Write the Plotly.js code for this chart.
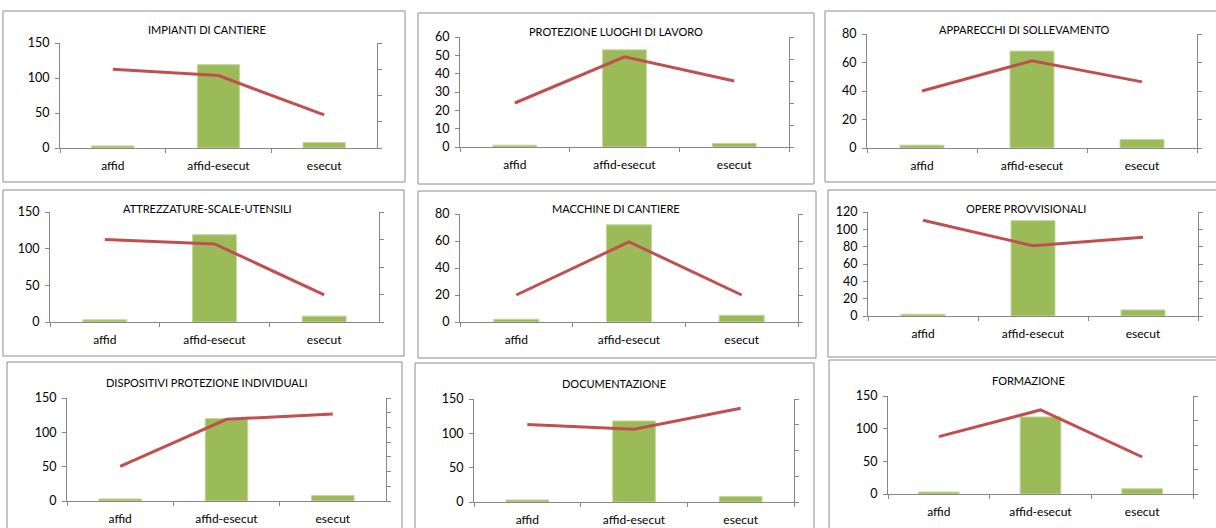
<!DOCTYPE html>
<html>
<head>
<meta charset="utf-8">
<script src="https://cdn.plot.ly/plotly-3.0.1.min.js"></script>
<style>
html,body{margin:0;padding:0;background:#fff;}
#chart{width:1216px;height:528px;}
</style>
</head>
<body>
<div id="chart"></div>
<script>
// ---- DATA ----
const categories = ["affid", "affid-esecut", "esecut"];
const panelTitles = [
  "IMPIANTI DI CANTIERE", "PROTEZIONE LUOGHI DI LAVORO", "APPARECCHI DI SOLLEVAMENTO",
  "ATTREZZATURE-SCALE-UTENSILI", "MACCHINE DI CANTIERE", "OPERE PROVVISIONALI",
  "DISPOSITIVI PROTEZIONE INDIVIDUALI", "DOCUMENTAZIONE", "FORMAZIONE"
];
// bar series (left axis)
const impiantiBars      = [3, 119, 8];
const protezioneBars    = [1, 53, 2];
const apparecchiBars    = [2, 68, 6];
const attrezzatureBars  = [3, 119, 8];
const macchineBars      = [2, 72, 5];
const opereBars         = [2, 110, 7];
const dispositiviBars   = [3, 120, 8];
const documentazioneBars= [3, 118, 8];
const formazioneBars    = [3, 118, 8];
// line series (secondary axis, unlabeled)
const impiantiLine      = [3.0, 2.76, 1.26];
const protezioneLine    = [2.0, 4.1, 3.0];
const apparecchiLine    = [2.0, 3.06, 2.32];
const attrezzatureLine  = [3.0, 2.84, 0.99];
const macchineLine      = [1.0, 2.97, 1.0];
const opereLine         = [5.52, 4.05, 4.55];
const dispositiviLine   = [2.36, 5.55, 5.91];
const documentazioneLine= [3.01, 2.83, 3.64];
const formazioneLine    = [2.34, 3.43, 1.51];
// left axis ranges / steps
const leftMax  = [150, 60, 80, 150, 80, 120, 150, 150, 150];
const leftStep = [50, 10, 20, 50, 20, 20, 50, 50, 50];
// right axis ranges (step 1)
const rightMax = [4, 5, 4, 4, 4, 6, 7, 4, 4];

const barSeries = [impiantiBars, protezioneBars, apparecchiBars, attrezzatureBars, macchineBars,
                   opereBars, dispositiviBars, documentazioneBars, formazioneBars];
const lineSeries = [impiantiLine, protezioneLine, apparecchiLine, attrezzatureLine, macchineLine,
                    opereLine, dispositiviLine, documentazioneLine, formazioneLine];

// ---- LAYOUT GEOMETRY (pixels) ----
const W = 1216, H = 528;
// plot area: [xLeft, xRight, yTop, yBottom]
const plotBox = [
  [60, 377, 43, 148], [460, 789, 37, 147], [867, 1197, 34, 148],
  [50, 379, 212, 322], [460, 798, 214, 322], [868, 1198, 212, 316],
  [67, 386, 398, 501], [474, 794, 399, 502], [888, 1193, 396, 494]
];
// panel border: [x0, y0, x1, y1]
const borderBox = [
  [3, 11, 405, 182], [418, 13, 814, 184], [825, 11, 1222, 182],
  [3, 190, 404, 356], [418, 191, 816, 358], [828, 190, 1222, 357],
  [7, 362, 402, 540], [415, 363, 814, 540], [829, 360, 1222, 540]
];
// title centre: [x, y]
const titlePos = [
  [207, 29], [616, 31], [1024, 29],
  [207, 208], [616, 209], [1026, 208],
  [207, 382], [614, 383], [1028, 380]
];

const font = "Lato, 'Open Sans', sans-serif";
const axisColor = "#868686";
const data = [];
const layout = {
  width: W, height: H,
  margin: {l: 0, r: 0, t: 0, b: 0},
  paper_bgcolor: "#fff", plot_bgcolor: "rgba(0,0,0,0)",
  showlegend: false,
  font: {family: font, size: 12, color: "#000"},
  bargap: 0.6,
  shapes: [], annotations: []
};

for (let i = 0; i < 9; i++) {
  const n = i + 1;
  const xa = n === 1 ? "x" : "x" + n;
  const ya = n === 1 ? "y" : "y" + n;
  const y2n = 9 + n;
  const y2 = "y" + y2n;
  const [px0, px1, pyT, pyB] = plotBox[i];

  data.push({
    type: "bar", x: categories, y: barSeries[i], xaxis: xa, yaxis: ya,
    marker: {color: "#9BBB59", line: {color: "#c3d69b", width: 1}},
    hoverinfo: "skip"
  });
  data.push({
    type: "scatter", mode: "lines", x: categories, y: lineSeries[i], xaxis: xa, yaxis: y2,
    line: {color: "#C0504D", width: 3}, hoverinfo: "skip"
  });

  layout["xaxis" + (n === 1 ? "" : n)] = {
    domain: [px0 / W, px1 / W], anchor: ya,
    type: "category", tickson: "boundaries",
    showline: true, linecolor: axisColor, linewidth: 1,
    ticks: "outside", ticklen: 4, tickcolor: axisColor,
    ticklabelstandoff: 7,
    showgrid: false, zeroline: false, fixedrange: true,
    tickfont: {family: font, size: 12, color: "#000"}
  };
  layout["yaxis" + (n === 1 ? "" : n)] = {
    domain: [1 - pyB / H, 1 - pyT / H], anchor: xa,
    range: [0, leftMax[i]], dtick: leftStep[i], tick0: 0,
    showline: true, linecolor: axisColor, linewidth: 1,
    ticks: "outside", ticklen: 4, tickcolor: axisColor,
    ticklabelstandoff: 3,
    showgrid: false, zeroline: false, fixedrange: true,
    tickfont: {family: font, size: 12.5, color: "#000"}
  };
  layout["yaxis" + y2n] = {
    overlaying: ya, side: "right", anchor: xa,
    range: [0, rightMax[i]], dtick: 1, tick0: 0,
    showline: true, linecolor: axisColor, linewidth: 1,
    ticks: "outside", ticklen: 4, tickcolor: axisColor,
    showticklabels: false, showgrid: false, zeroline: false, fixedrange: true
  };

  const [bx0, by0, bx1, by1] = borderBox[i];
  layout.shapes.push({
    type: "rect", xref: "paper", yref: "paper",
    x0: bx0 / W, x1: bx1 / W, y0: 1 - by1 / H, y1: 1 - by0 / H,
    line: {color: "#8c8c8c", width: 1}, fillcolor: "rgba(0,0,0,0)", layer: "below"
  });
  layout.annotations.push({
    xref: "paper", yref: "paper", x: titlePos[i][0] / W, y: 1 - titlePos[i][1] / H,
    xanchor: "center", yanchor: "middle", showarrow: false,
    text: panelTitles[i], font: {family: font, size: 11, color: "#000"}
  });
}

Plotly.newPlot("chart", data, layout, {staticPlot: true, displayModeBar: false});
</script>
</body>
</html>
